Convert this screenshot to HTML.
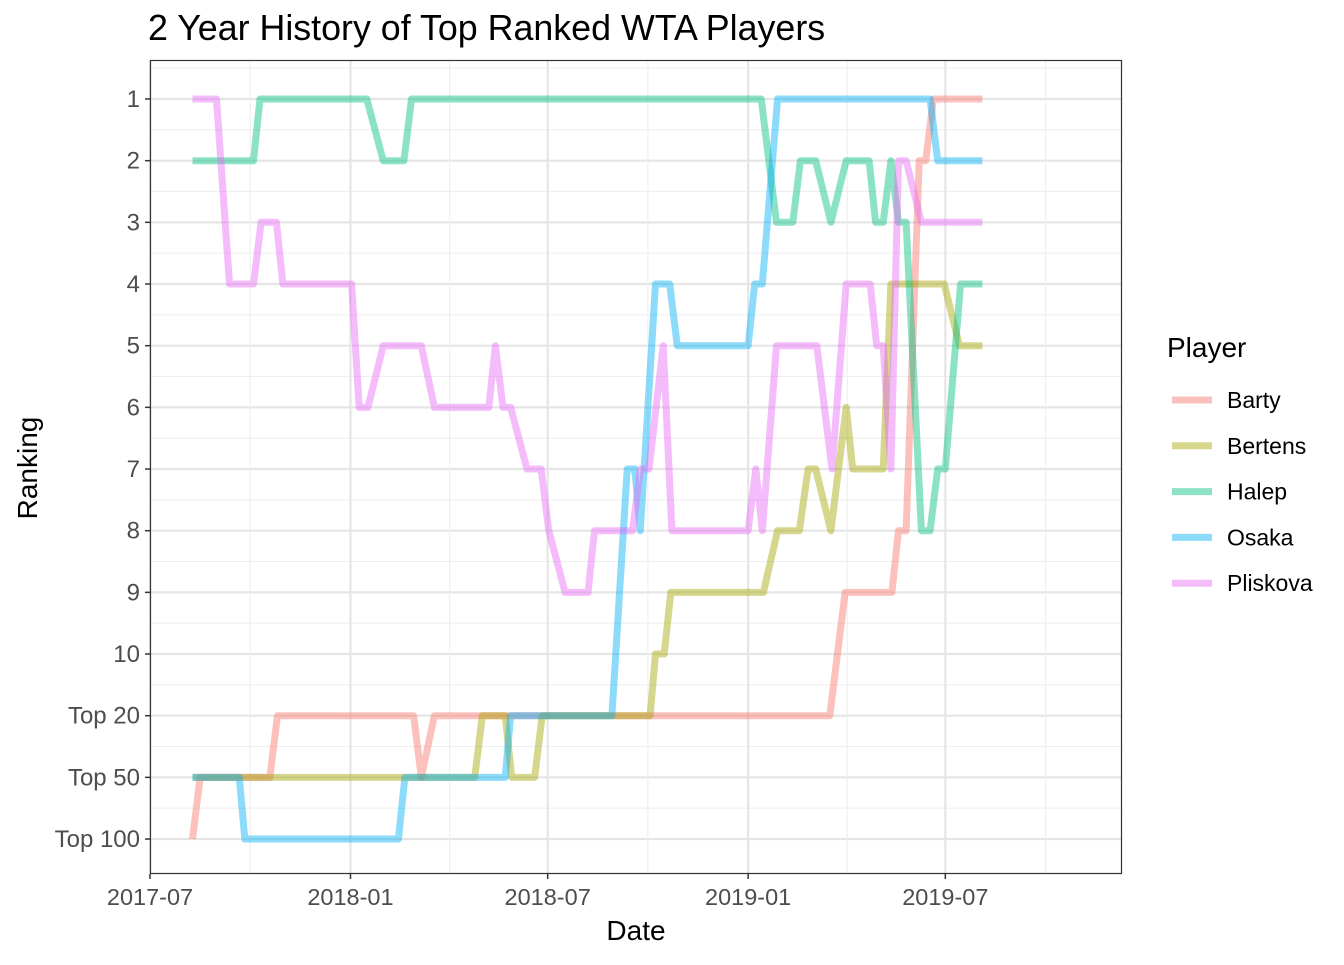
<!DOCTYPE html>
<html><head><meta charset="utf-8"><style>
body{margin:0;background:#fff;font-family:"Liberation Sans",Arial,sans-serif}
svg text{font-family:"Liberation Sans",Arial,sans-serif}
</style></head><body>
<svg id="chart" width="1344" height="960" viewBox="0 0 1344 960">
<text x="148" y="40" font-size="35.8" fill="#000">2 Year History of Top Ranked WTA Players</text>
<g id="grid"></g>
<g id="lines"></g>
<rect x="150.5" y="60.5" width="971" height="813" fill="none" stroke="#333" stroke-width="1.2"/>
<g id="axes"></g>
<text x="636" y="940" font-size="28" text-anchor="middle" fill="#000">Date</text>
<text transform="translate(37,468) rotate(-90)" font-size="28" text-anchor="middle" fill="#000">Ranking</text>
<g id="legend"></g>
</svg>
<script>
const players=['Barty','Bertens','Halep','Osaka','Pliskova'];
const colors=['#F8766D','#A3A500','#00BF7D','#00B0F6','#E76BF3'];
// dates as days since 2017-07-01; ranks 11=Top 20, 12=Top 50, 13=Top 100
const bartyDays=[39,46,110,117,242,249,261,624,638,681,687,694,706,712,719,764];
const bartyRank=[13,12,12,11,11,12,11,11,9,9,8,8,2,2,1,1];
const bertensDays=[39,298,305,326,332,353,360,459,464,472,478,563,576,596,604,611,625,639,645,673,680,729,743,764];
const bertensRank=[12,12,11,11,12,12,11,11,10,10,9,9,8,8,7,7,8,6,7,7,4,4,5,5];
const halepDays=[39,95,101,199,214,233,240,561,575,590,597,611,625,639,660,666,673,680,687,694,708,716,723,730,744,764];
const halepRank=[2,2,1,1,2,2,1,1,3,3,2,2,3,2,2,3,3,2,3,3,8,8,7,7,4,4];
const osakaDays=[39,82,87,228,234,326,331,424,438,445,450,464,477,484,549,555,562,576,716,723,764];
const osakaRank=[12,12,13,13,12,12,11,11,7,7,8,4,4,5,5,4,4,1,1,2,2];
const pliskovaDays=[39,61,73,95,102,116,122,185,192,200,214,249,261,311,317,324,331,346,359,366,381,402,408,443,450,458,471,479,549,556,562,575,612,626,639,661,667,673,680,687,694,708,764];
const pliskovaRank=[1,1,4,4,3,3,4,4,6,6,5,5,6,6,5,6,6,7,7,8,9,9,8,8,7,7,5,8,8,7,8,5,5,7,4,4,5,5,7,2,2,3,3];
const yLabels=['1','2','3','4','5','6','7','8','9','10','Top 20','Top 50','Top 100'];
const xTickDays=[0,184,365,549,730];
const xTickLabels=['2017-07','2018-01','2018-07','2019-01','2019-07'];
const xMinorDays=[92,275,457,640,822];
const seriesDays=[bartyDays,bertensDays,halepDays,osakaDays,pliskovaDays];
const seriesRank=[bartyRank,bertensRank,halepRank,osakaRank,pliskovaRank];

const NS='http://www.w3.org/2000/svg';
const X=d=>150+d*1.0895;
const Y=r=>99+(r-1)*61.67;
function mk(tag,attrs,parent){const e=document.createElementNS(NS,tag);for(const k in attrs)e.setAttribute(k,attrs[k]);parent.appendChild(e);return e;}
const grid=document.getElementById('grid'),axes=document.getElementById('axes'),lines=document.getElementById('lines'),legend=document.getElementById('legend');
for(let i=0;i<yLabels.length;i++){
  const y=Y(i+1);
  const g=mk('line',{x1:150,x2:1122,y1:y,y2:y,stroke:'#e5e5e5','stroke-width':2.2},grid);
  
  
  if(i<yLabels.length-1){const m=mk('line',{x1:150,x2:1122,y1:y+30.8,y2:y+30.8,stroke:'#efefef','stroke-width':1.1},grid);
  
  }
  if(i===0){const m=mk('line',{x1:150,x2:1122,y1:y-30.8,y2:y-30.8,stroke:'#efefef','stroke-width':1.1},grid);
  
  }
  const t=mk('line',{x1:145,x2:150,y1:y,y2:y,stroke:'#333','stroke-width':1.5},axes);
  
  
  const tx=mk('text',{x:140,y:y+8,'font-size':24,'text-anchor':'end',fill:'#4d4d4d'},axes);
  tx.textContent=yLabels[i];
  
  
}
for(const d of xMinorDays){const x=X(d);const m=mk('line',{x1:x,x2:x,y1:60,y2:874,stroke:'#efefef','stroke-width':1.1},grid);
  
  }
for(let i=0;i<xTickDays.length;i++){
  const x=X(xTickDays[i]);
  const g=mk('line',{x1:x,x2:x,y1:60,y2:874,stroke:'#e5e5e5','stroke-width':2.2},grid);
  
  
  const t=mk('line',{x1:x,x2:x,y1:874,y2:879,stroke:'#333','stroke-width':1.5},axes);
  
  
  const tx=mk('text',{x:x,y:905,'font-size':23.5,'text-anchor':'middle',fill:'#4d4d4d'},axes);
  tx.textContent=xTickLabels[i];
  
  
}
for(let s=0;s<players.length;s++){
  const pts=seriesDays[s].map((d,i)=>X(d).toFixed(1)+','+Y(seriesRank[s][i]).toFixed(1)).join(' ');
  const p=mk('polyline',{points:pts,fill:'none',stroke:colors[s],'stroke-opacity':0.45,'stroke-width':7,'stroke-linejoin':'round'},lines);
  
  
}
const lt=mk('text',{x:1167,y:357,'font-size':28,fill:'#000'},legend);
lt.textContent='Player';


for(let s=0;s<players.length;s++){
  const y=400+s*45.8;
  const k=mk('line',{x1:1172,x2:1212,y1:y,y2:y,stroke:colors[s],'stroke-opacity':0.45,'stroke-width':7},legend);
  
  
  const t=mk('text',{x:1227,y:y+8,'font-size':23,fill:'#000'},legend);
  t.textContent=players[s];
  
  
}
</script>
</body></html>
